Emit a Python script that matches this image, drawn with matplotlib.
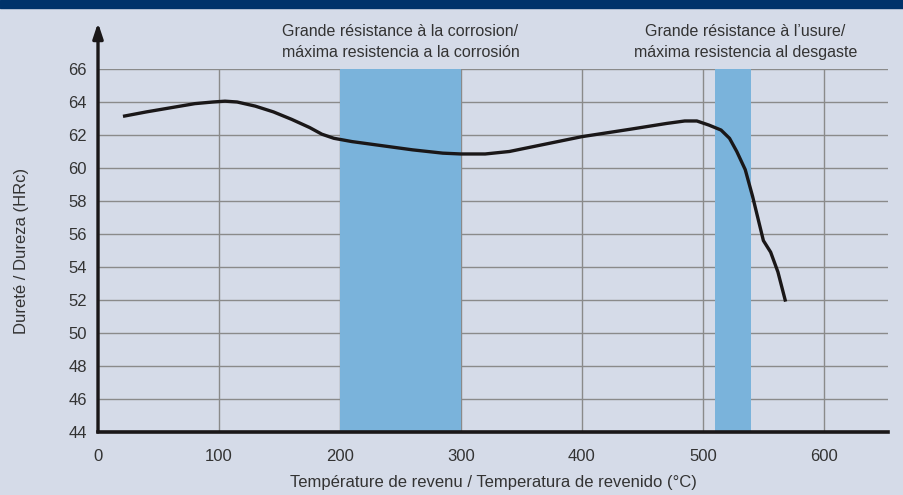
import matplotlib.pyplot as plt
from matplotlib.patches import Rectangle
from matplotlib import font_manager

names = {f.name for f in font_manager.fontManager.ttflist}
FONT = "Liberation Sans Narrow" if "Liberation Sans Narrow" in names else "Liberation Sans"
plt.rcParams["font.family"] = [FONT, "DejaVu Sans"]

# tempering curve (temperature °C, hardness HRc)
temp = [22, 40, 60, 80, 95, 105, 115, 130, 145, 160, 175, 185, 195, 210, 230, 260,
        285, 300, 320, 340, 370, 400, 440, 470, 485, 495, 505, 515, 522, 528,
        535, 541, 546, 550, 556, 562, 568]
hardness = [63.15, 63.4, 63.65, 63.9, 64.0, 64.05, 64.0, 63.75, 63.4, 62.95, 62.45,
            62.05, 61.8, 61.6, 61.4, 61.1, 60.9, 60.85, 60.85, 61.0, 61.45, 61.9,
            62.35, 62.7, 62.85, 62.85, 62.6, 62.3, 61.8, 61.0, 59.9, 58.3, 56.8,
            55.6, 54.9, 53.7, 52.0]

bands = [(200, 300), (510, 540)]
band_labels = ["Grande résistance à la corrosion/\nmáxima resistencia a la corrosión",
               "Grande résistance à l\u2019usure/\nmáxima resistencia al desgaste"]
label_x = [250, 535]

xticks = [0, 100, 200, 300, 400, 500, 600]
yticks = list(range(44, 67, 2))

BG = "#d5dbe8"
fig = plt.figure(figsize=(9.04, 4.95), dpi=100, facecolor=BG)
fig.patches.append(Rectangle((0, 1 - 8 / 495), 1, 8 / 495, transform=fig.transFigure,
                             color="#00336a", zorder=0))
ax = fig.add_axes([98 / 904, 1 - 432 / 495, (888 - 98) / 904, (432 - 69) / 495])
ax.set_facecolor(BG)
ax.set_xlim(0, 653)
ax.set_ylim(44, 66)

for x0, x1 in bands:
    ax.axvspan(x0, x1, color="#7ab3db", zorder=1, lw=0)

ax.set_xticks(xticks)
ax.set_yticks(yticks)
ax.grid(True, color="#8a8a8a", lw=1.0, zorder=0.5)
ax.set_axisbelow(True)

ax.plot(temp, hardness, color="#1a1718", lw=2.4, zorder=3, solid_joinstyle="round")

for s in ["top", "right"]:
    ax.spines[s].set_visible(False)
ax.spines["left"].set_visible(False)
ax.spines["bottom"].set_linewidth(2.6)
ax.spines["bottom"].set_color("#1a1718")
ax.spines["bottom"].set_zorder(4)

ax.annotate("", xy=(0, 68.8), xytext=(0, 44), xycoords="data",
            arrowprops=dict(arrowstyle="-|>,head_length=0.9,head_width=0.3",
                            color="#1a1718", lw=2.4, shrinkA=0, shrinkB=0),
            annotation_clip=False, zorder=5)

ax.tick_params(length=0, labelsize=12, colors="#333333", pad=8)
ax.tick_params(axis="x", pad=12)

for lab, lx in zip(band_labels, label_x):
    ax.text(lx, 66.55, lab, ha="center", va="bottom", fontsize=11.5,
            color="#333333", linespacing=1.5)

ax.set_xlabel("Température de revenu / Temperatura de revenido (°C)", fontsize=12,
              color="#333333", labelpad=8)
ax.set_ylabel("Dureté / Dureza (HRc)", fontsize=12, color="#333333", labelpad=28)

fig.savefig("out.png", dpi=100, facecolor=BG)
